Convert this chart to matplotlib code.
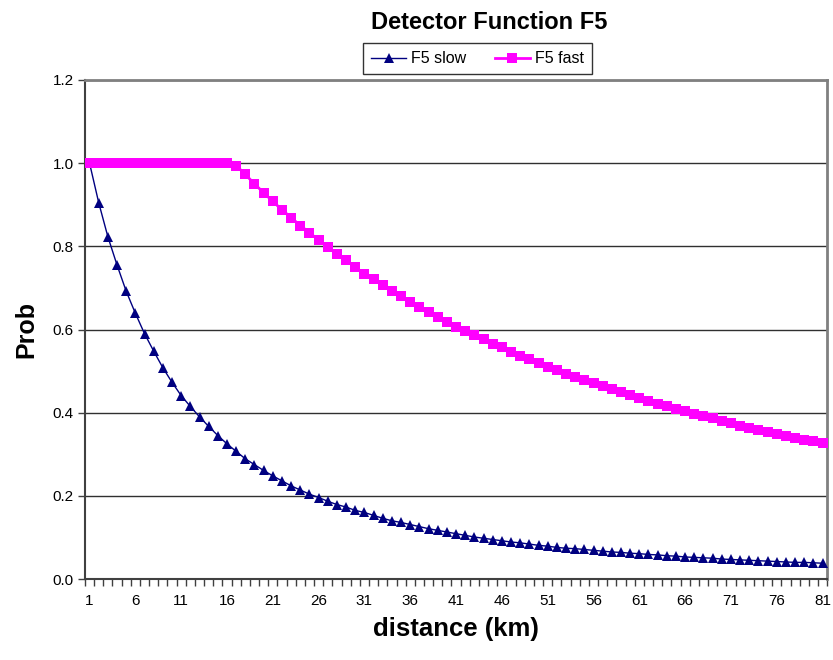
import numpy as np
import matplotlib
matplotlib.use("Agg")
import matplotlib.pyplot as plt

plt.rcParams['font.family'] = ['Liberation Sans', 'DejaVu Sans']

# distances 1..81 km
distance = list(range(1, 82))

# valores
f5_slow = [
    1.000, 0.905, 0.823, 0.755, 0.692, 0.639, 0.590, 0.548, 0.508, 0.473,
    0.441, 0.415, 0.390, 0.367, 0.345, 0.325, 0.307, 0.289, 0.275, 0.261,
    0.248, 0.236, 0.224, 0.214, 0.204, 0.196, 0.187, 0.179, 0.173, 0.165,
    0.160, 0.153, 0.146, 0.140, 0.136, 0.131, 0.126, 0.121, 0.117, 0.113,
    0.109, 0.105, 0.101, 0.098, 0.095, 0.092, 0.089, 0.087, 0.084, 0.081,
    0.079, 0.076, 0.074, 0.073, 0.071, 0.069, 0.067, 0.065, 0.064, 0.062,
    0.061, 0.059, 0.058, 0.056, 0.055, 0.053, 0.052, 0.051, 0.050, 0.048,
    0.047, 0.046, 0.045, 0.044, 0.043, 0.042, 0.041, 0.040, 0.040, 0.039,
    0.038,
]

f5_fast = [
    1.000, 1.000, 1.000, 1.000, 1.000, 1.000, 1.000, 1.000, 1.000, 1.000,
    1.000, 1.000, 1.000, 1.000, 1.000, 1.000, 0.994, 0.973, 0.950, 0.929,
    0.908, 0.888, 0.869, 0.850, 0.833, 0.815, 0.798, 0.781, 0.766, 0.750,
    0.734, 0.721, 0.707, 0.693, 0.680, 0.667, 0.655, 0.643, 0.631, 0.619,
    0.607, 0.597, 0.586, 0.576, 0.566, 0.557, 0.547, 0.537, 0.528, 0.519,
    0.511, 0.503, 0.494, 0.486, 0.479, 0.472, 0.463, 0.456, 0.449, 0.443,
    0.436, 0.429, 0.422, 0.415, 0.409, 0.403, 0.397, 0.391, 0.386, 0.380,
    0.375, 0.369, 0.363, 0.358, 0.353, 0.349, 0.344, 0.339, 0.335, 0.331,
    0.327,
]

x_labels = [str(d) for d in distance[::5]]

fig = plt.figure(figsize=(8.33, 6.6), dpi=100)
ax = fig.add_axes([0.102, 0.1227, 0.891, 0.7561])

ax.plot(distance, f5_slow, color="#000080", lw=1, marker="^", ms=7.5,
        markeredgewidth=0, label="F5 slow", zorder=3)
ax.plot(distance, f5_fast, color="#FF00FF", lw=2, marker="s", ms=7,
        markeredgewidth=0, label="F5 fast", zorder=3)

ax.set_xlim(0.5, 81.5)
ax.set_ylim(0, 1.2)
ax.set_yticks(np.arange(0, 1.21, 0.2))
ax.set_yticklabels([f"{v:.1f}" for v in np.arange(0, 1.21, 0.2)])
ax.set_xticks(distance[::5])
ax.set_xticklabels(x_labels)
ax.set_xticks(np.arange(0.5, 82, 1), minor=True)
ax.tick_params(axis="x", which="major", length=0, pad=11, labelsize=11)
ax.tick_params(axis="x", which="minor", length=5, width=1, color="#404040", direction="out")
ax.tick_params(axis="y", length=5, width=1, color="#404040", labelsize=11, pad=3)

# lineas de la cuadricula
ax.yaxis.grid(True, color="#303030", lw=1)
ax.set_axisbelow(True)

for s in ["left", "bottom"]:
    ax.spines[s].set_color("#404040")
    ax.spines[s].set_linewidth(1.5)
for s in ["top", "right"]:
    ax.spines[s].set_color("#808080")
    ax.spines[s].set_linewidth(2)

ax.set_xlabel("distance (km)", fontsize=18.5, fontweight="bold", labelpad=6)
ax.set_ylabel("Prob", fontsize=18, fontweight="bold", labelpad=10)
fig.suptitle("Detector Function F5", fontsize=17, fontweight="bold", x=0.587, y=0.983)

leg = fig.legend(loc="center", bbox_to_anchor=(0.573, 0.911), ncol=2, fontsize=11.5,
                 frameon=True, fancybox=False, edgecolor="black", borderpad=0.5,
                 handlelength=2.2, columnspacing=1.8, handletextpad=0.3)
leg.get_frame().set_linewidth(1)

plt.savefig("out.png", dpi=100)
plt.close()
